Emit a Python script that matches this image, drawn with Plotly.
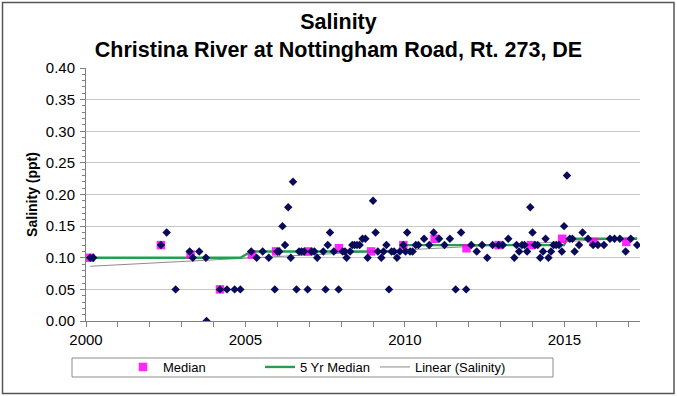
import numpy as np
import plotly.graph_objects as go

# Individual salinity samples (decimal year, ppt)
sample_dates = [
    2000.13, 2000.23, 2002.35, 2002.53, 2002.81, 2003.25, 2003.35, 2003.55, 2003.76, 2003.78,
    2004.20, 2004.42, 2004.66, 2004.84, 2005.18, 2005.35, 2005.54, 2005.73, 2005.92, 2006.00,
    2006.06, 2006.16, 2006.24, 2006.34, 2006.42, 2006.49, 2006.60, 2006.68, 2006.76, 2006.84,
    2006.95, 2007.07, 2007.16, 2007.25, 2007.44, 2007.51, 2007.58, 2007.65, 2007.77, 2007.92,
    2008.05, 2008.12, 2008.17, 2008.28, 2008.35, 2008.42, 2008.50, 2008.58, 2008.67, 2008.76,
    2008.83, 2009.00, 2009.08, 2009.15, 2009.26, 2009.33, 2009.42, 2009.50, 2009.58, 2009.66,
    2009.75, 2009.84, 2009.95, 2010.02, 2010.07, 2010.16, 2010.24, 2010.34, 2010.42, 2010.60,
    2010.76, 2010.90, 2011.07, 2011.24, 2011.41, 2011.59, 2011.76, 2011.92, 2012.08, 2012.25,
    2012.42, 2012.58, 2012.75, 2012.94, 2013.07, 2013.24, 2013.43, 2013.50, 2013.58, 2013.67,
    2013.75, 2013.83, 2013.93, 2014.00, 2014.08, 2014.16, 2014.24, 2014.33, 2014.41, 2014.50,
    2014.58, 2014.66, 2014.74, 2014.83, 2014.92, 2014.99, 2015.08, 2015.17, 2015.25, 2015.32,
    2015.46, 2015.57, 2015.74, 2015.90, 2016.05, 2016.24, 2016.43, 2016.57, 2016.74, 2016.92,
    2017.08, 2017.28,
]
sample_values = [
    0.10, 0.10, 0.12, 0.14, 0.05, 0.11, 0.10, 0.11, 0.10, 0.00,
    0.05, 0.05, 0.05, 0.05, 0.11, 0.10, 0.11, 0.10, 0.05, 0.11,
    0.11, 0.15, 0.12, 0.18, 0.10, 0.22, 0.05, 0.11, 0.11, 0.11,
    0.05, 0.11, 0.11, 0.10, 0.11, 0.05, 0.12, 0.14, 0.11, 0.05,
    0.11, 0.11, 0.10, 0.11, 0.12, 0.12, 0.12, 0.12, 0.13, 0.13,
    0.10, 0.19, 0.14, 0.11, 0.10, 0.11, 0.12, 0.05, 0.11, 0.11,
    0.10, 0.11, 0.12, 0.11, 0.14, 0.11, 0.11, 0.12, 0.12, 0.13,
    0.12, 0.14, 0.13, 0.12, 0.13, 0.05, 0.14, 0.05, 0.12, 0.11,
    0.12, 0.10, 0.12, 0.12, 0.12, 0.13, 0.10, 0.12, 0.11, 0.12,
    0.12, 0.11, 0.18, 0.14, 0.12, 0.12, 0.10, 0.11, 0.13, 0.10,
    0.11, 0.12, 0.12, 0.12, 0.11, 0.15, 0.23, 0.13, 0.13, 0.11,
    0.12, 0.14, 0.13, 0.12, 0.12, 0.12, 0.13, 0.13, 0.13, 0.11,
    0.13, 0.12,
]

# Annual medians (decimal year, ppt)
median_dates = [2000.13, 2002.35, 2003.28, 2004.20, 2005.20, 2005.96, 2006.97, 2007.93, 2008.94,
                2009.95, 2010.93, 2011.93, 2012.94, 2013.95, 2014.93, 2015.91, 2016.94]
median_values = [0.10, 0.12, 0.105, 0.05, 0.105, 0.11, 0.11, 0.115, 0.11,
                 0.12, 0.13, 0.115, 0.12, 0.12, 0.13, 0.125, 0.125]

year_ticks = list(range(2000, 2018))
year_labels = [str(y) if y % 5 == 0 else "" for y in year_ticks]
y_ticks = [0.00, 0.05, 0.10, 0.15, 0.20, 0.25, 0.30, 0.35, 0.40]
y_labels = ["0.00", "0.05", "0.10", "0.15", "0.20", "0.25", "0.30", "0.35", "0.40"]

d = np.array(sample_dates)
v = np.array(sample_values)

# 5-year period medians
period = np.floor((d - 2000) / 5).astype(int)
five_yr = np.array([np.median(v[period == p]) for p in period])

# linear trend
slope, intercept = np.polyfit(d, v, 1)
trend_x = np.array([d.min(), d.max()])
trend_y = slope * trend_x + intercept

FONT = "Liberation Sans, Arial, sans-serif"
W, H = 677, 396
L, R, T, B = 86, 640, 68, 321  # plot area in pixels

def px(xp):
    return (xp - L) / (R - L)

def py(yp):
    return (B - yp) / (B - T)

fig = go.Figure()

fig.add_trace(go.Scatter(x=trend_x, y=trend_y, mode="lines", name="Linear (Salinity)",
                         line=dict(color="#8c8c8c", width=1), legend="legend3"))
fig.add_trace(go.Scatter(x=d, y=five_yr, mode="lines", name="5 Yr Median",
                         line=dict(color="#22a050", width=2.4), legend="legend2"))
fig.add_trace(go.Scatter(x=median_dates, y=median_values, mode="markers", name="Median",
                         marker=dict(symbol="square", size=8.5, color="#ff00ff", opacity=0.85,
                                     line=dict(width=0)), legend="legend"))
fig.add_trace(go.Scatter(x=d, y=v, mode="markers", name="Salinity", showlegend=False,
                         marker=dict(symbol="diamond", size=6.5, color="#0a0a5a",
                                     line=dict(width=0))))

leg_common = dict(orientation="h", yref="container", y=1 - 352 / H, yanchor="top",
                  xref="container", xanchor="left", bgcolor="rgba(0,0,0,0)", borderwidth=0,
                  font=dict(size=13, family=FONT, color="black"), itemwidth=30)

fig.update_layout(
    width=W, height=H,
    margin=dict(l=L, r=W - R, t=T, b=H - B, autoexpand=False),
    paper_bgcolor="white", plot_bgcolor="white",
    font=dict(family=FONT, color="black"),
    title=dict(text="<b>Salinity</b><br><b>Christina River at Nottingham Road, Rt. 273, DE</b>",
               x=0.5, xanchor="center", xref="container", y=1 - 29 / H, yanchor="top",
               font=dict(size=21.5, family=FONT)),
    xaxis=dict(range=[2000, 2017.37], tickvals=year_ticks, ticktext=year_labels,
               ticks="outside", ticklen=5, tickcolor="#7f7f7f", showgrid=False,
               showline=True, linecolor="#7f7f7f", linewidth=1, zeroline=False,
               tickfont=dict(size=15, family=FONT), ticklabelstandoff=0, automargin=False),
    yaxis=dict(range=[0, 0.40], tickvals=y_ticks, ticktext=y_labels,
               ticks="outside", ticklen=5, tickcolor="#7f7f7f",
               showgrid=True, gridcolor="#c8c8c8", gridwidth=1,
               showline=True, linecolor="#7f7f7f", linewidth=1, zeroline=False,
               minor=dict(dtick=0.01, ticks="outside", ticklen=3, tickcolor="#7f7f7f", showgrid=False),
               tickfont=dict(size=15, family=FONT), ticklabelstandoff=2, automargin=False,
               title=dict(text="<b>Salinity (ppt)</b>", font=dict(size=14, family=FONT), standoff=4)),
    legend=dict(leg_common, x=(123) / W),
    legend2=dict(leg_common, x=(260) / W),
    legend3=dict(leg_common, x=(375) / W),
    showlegend=True,
)

# legend box
fig.add_shape(type="rect", xref="paper", yref="paper",
              x0=px(72), x1=px(553), y0=py(377), y1=py(358),
              line=dict(color="#8c8c8c", width=1), layer="below")
# outer chart frame
fig.add_shape(type="rect", xref="paper", yref="paper",
              x0=px(2.5), x1=px(674), y0=py(393.5), y1=py(2.5),
              line=dict(color="#555555", width=1.5), layer="below")

fig.write_html("out.html", config={"displayModeBar": False},
               post_script="document.body.style.margin='0';")
